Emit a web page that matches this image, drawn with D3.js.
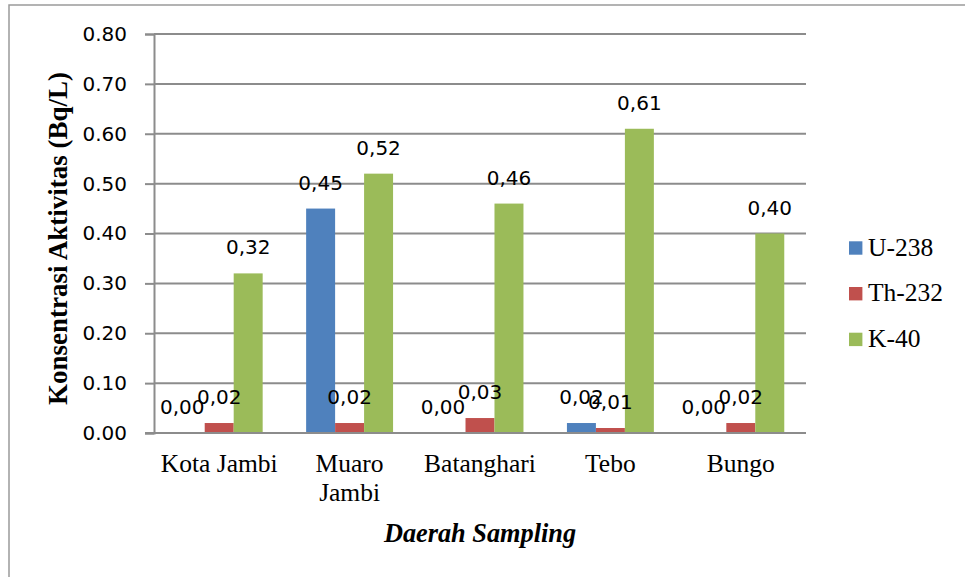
<!DOCTYPE html>
<html>
<head>
<meta charset="utf-8">
<script src="https://cdn.jsdelivr.net/npm/d3@7"></script>
<style>
  html, body { margin: 0; padding: 0; background: #fff; }
  svg { display: block; }
</style>
</head>
<body>
<svg id="chart" width="965" height="577"></svg>
<script>
// Sampling regions and measured activity concentrations (Bq/L)
const categories = [["Kota Jambi"], ["Muaro", "Jambi"], ["Batanghari"], ["Tebo"], ["Bungo"]];
const seriesNames = ["U-238", "Th-232", "K-40"];
const seriesColors = ["#4F81BD", "#C0504D", "#9BBB59"];
const u238 = [0.00, 0.45, 0.00, 0.02, 0.00];
const th232 = [0.02, 0.02, 0.03, 0.01, 0.02];
const k40 = [0.32, 0.52, 0.46, 0.61, 0.40];
const yTicks = [0, 0.1, 0.2, 0.3, 0.4, 0.5, 0.6, 0.7, 0.8];

const seriesValues = [u238, th232, k40];
const catKeys = categories.map(c => c.join(" "));

const svg = d3.select("#chart");
const W = 965, H = 577;
const plot = { left: 154, right: 806, top: 34, bottom: 433 };
const gridColor = "#8c8c8c";
const numFont = "'DejaVu Sans', sans-serif";
const serif = "'Liberation Serif', 'Times New Roman', serif";

svg.append("rect").attr("width", W).attr("height", H).attr("fill", "#fff");

// Outer chart frame
svg.append("rect")
  .attr("x", 9).attr("y", 5).attr("width", 1000).attr("height", 1000)
  .attr("fill", "none").attr("stroke", "#9a9a9a").attr("stroke-width", 1.5);

const x = d3.scaleBand().domain(catKeys).range([plot.left, plot.right]).padding(0);
const xs = d3.scaleBand().domain(seriesNames).range([0, x.bandwidth()])
  .paddingInner(0).paddingOuter(0.75);
const y = d3.scaleLinear().domain([0, 0.8]).range([plot.bottom, plot.top]);

// Horizontal gridlines
svg.append("g").selectAll("line").data(yTicks).join("line")
  .attr("x1", plot.left).attr("x2", plot.right)
  .attr("y1", d => y(d)).attr("y2", d => y(d))
  .attr("stroke", gridColor).attr("stroke-width", 2);

// Value axis
const yAxis = svg.append("g")
  .attr("transform", `translate(${plot.left},0)`)
  .call(d3.axisLeft(y).tickValues(yTicks).tickFormat(d3.format(".2f"))
    .tickSize(9).tickPadding(18));
yAxis.select(".domain").attr("stroke", gridColor).attr("stroke-width", 2);
yAxis.selectAll(".tick line").attr("stroke", gridColor).attr("stroke-width", 2);
yAxis.selectAll(".tick text")
  .attr("font-family", numFont).attr("font-size", 20).attr("fill", "#000");

// Bars
const groups = svg.append("g").selectAll("g").data(catKeys).join("g")
  .attr("transform", d => `translate(${x(d)},0)`);

groups.each(function(cat, ci) {
  const g = d3.select(this);
  seriesNames.forEach((s, si) => {
    const v = seriesValues[si][ci];
    g.append("rect")
      .attr("x", xs(s)).attr("width", xs.bandwidth())
      .attr("y", y(v)).attr("height", y(0) - y(v))
      .attr("fill", seriesColors[si]);
  });
});

// Baseline drawn over the bars
svg.append("line")
  .attr("x1", plot.left - 9).attr("x2", plot.right)
  .attr("y1", y(0)).attr("y2", y(0))
  .attr("stroke", gridColor).attr("stroke-width", 2);

// Data labels (comma as decimal separator); empty bars' labels sit a little
// to the left so they crowd their neighbours less
const fmtLabel = v => d3.format(".2f")(v).replace(".", ",");
groups.each(function(cat, ci) {
  const g = d3.select(this);
  seriesNames.forEach((s, si) => {
    const v = seriesValues[si][ci];
    g.append("text")
      .attr("x", xs(s) + xs.bandwidth() / 2)
      .attr("dx", v === 0 ? -8 : 0)
      .attr("y", y(v) - 19)
      .attr("text-anchor", "middle")
      .attr("font-family", numFont).attr("font-size", 20)
      .attr("fill", "#000")
      .text(fmtLabel(v));
  });
});

// Category labels
categories.forEach((lines, ci) => {
  const t = svg.append("text")
    .attr("x", x(catKeys[ci]) + x.bandwidth() / 2)
    .attr("y", 472)
    .attr("text-anchor", "middle")
    .attr("font-family", serif).attr("font-size", 25.5).attr("fill", "#000");
  lines.forEach((ln, li) => {
    t.append("tspan")
      .attr("x", x(catKeys[ci]) + x.bandwidth() / 2)
      .attr("dy", li === 0 ? 0 : 29)
      .text(ln);
  });
});

// Axis titles
svg.append("text")
  .attr("transform", "translate(67,238.5) rotate(-90)")
  .attr("text-anchor", "middle")
  .attr("font-family", serif).attr("font-weight", "bold").attr("font-size", 27)
  .attr("fill", "#000")
  .text("Konsentrasi Aktivitas (Bq/L)");

svg.append("text")
  .attr("x", (plot.left + plot.right) / 2).attr("y", 542)
  .attr("text-anchor", "middle")
  .attr("font-family", serif).attr("font-weight", "bold").attr("font-style", "italic")
  .attr("font-size", 26.3).attr("fill", "#000")
  .text("Daerah Sampling");

// Legend
const legend = svg.append("g").attr("transform", "translate(849,248)");
seriesNames.forEach((s, i) => {
  const row = legend.append("g").attr("transform", `translate(0,${i * 45.7})`);
  row.append("rect").attr("x", 0).attr("y", -6.7).attr("width", 13.4).attr("height", 13.4)
    .attr("fill", seriesColors[i]);
  row.append("text").attr("x", 19).attr("y", 7.5)
    .attr("font-family", serif).attr("font-size", 25.5).attr("fill", "#000")
    .text(s);
});
</script>
</body>
</html>
